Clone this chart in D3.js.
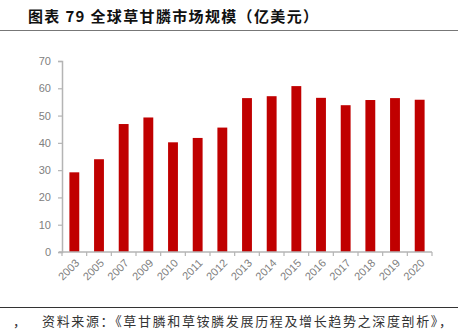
<!DOCTYPE html>
<html><head><meta charset="utf-8">
<script src="https://cdn.jsdelivr.net/npm/d3@7"></script>
<style>body{margin:0;background:#fff}svg{display:block}</style>
</head><body>
<script>
const years = ["2003","2005","2007","2009","2010","2011","2012","2013","2014","2015","2016","2017","2018","2019","2020"];
const values = [29.2,34.0,46.9,49.3,40.2,41.8,45.6,56.4,57.1,60.8,56.5,53.8,55.7,56.4,55.8];
const yTicks = [0,10,20,30,40,50,60,70];
const titleText = "图表 79 全球草甘膦市场规模（亿美元）";
const sourceText = "资料来源：《草甘膦和草铵膦发展历程及增长趋势之深度剖析》，";

const W=467,H=336;
const svg=d3.select("body").append("svg").attr("width",W).attr("height",H);
const x=d3.scaleBand().domain(years).range([62,432]).paddingInner(0.6).paddingOuter(0.3);
const y=d3.scaleLinear().domain([0,70]).range([252,61]);

svg.append("text").attr("x",28).attr("y",22).attr("font-family","Noto Sans CJK SC").attr("font-weight","bold")
  .attr("font-size",15).attr("fill","#111").attr("textLength",290).attr("lengthAdjust","spacing").text(titleText);
svg.append("line").attr("x1",0).attr("x2",458).attr("y1",30.5).attr("y2",30.5).attr("stroke","#777").attr("stroke-width",1.2);

svg.selectAll("rect.bar").data(values).enter().append("rect").attr("class","bar")
  .attr("x",(d,i)=>x(years[i])).attr("width",x.bandwidth())
  .attr("y",d=>y(d)).attr("height",d=>y(0)-y(d)).attr("fill","#c00000");

// y axis
const ya=svg.append("g").attr("transform","translate(62,0)").call(d3.axisLeft(y).tickValues(yTicks).tickSize(4).tickPadding(7));
ya.select(".domain").attr("stroke","#b4b4b4").attr("stroke-width",1.5);
ya.selectAll(".tick line").attr("stroke","#b4b4b4").attr("stroke-width",1.2);
ya.selectAll("text").attr("font-family","Liberation Sans, Arial").attr("font-size",11).attr("fill","#808080");

// x axis
const xb=d3.scaleLinear().domain([0,years.length]).range([62,432]);
const xa=svg.append("g").attr("transform","translate(0,252)");
xa.append("line").attr("x1",59).attr("x2",432).attr("stroke","#b4b4b4").attr("stroke-width",1.5);
xa.selectAll("line.t").data(d3.range(years.length+1)).enter().append("line").attr("class","t")
  .attr("x1",d=>xb(d)).attr("x2",d=>xb(d)).attr("y1",0).attr("y2",4).attr("stroke","#b4b4b4").attr("stroke-width",1.2);
xa.selectAll("text").data(years).enter().append("text")
  .attr("transform",d=>`translate(${x(d)+x.bandwidth()/2+3},${9}) rotate(-45)`)
  .attr("text-anchor","end").attr("dy","0.35em")
  .attr("font-family","Liberation Sans, Arial").attr("font-size",11).attr("fill","#808080").text(d=>d);

svg.append("line").attr("x1",0).attr("x2",458).attr("y1",307.5).attr("y2",307.5).attr("stroke","#333").attr("stroke-width",1);
svg.append("text").attr("x",13).attr("y",326).attr("font-family","Noto Sans CJK SC").attr("font-size",13).attr("fill","#333").text("，");
svg.append("text").attr("x",42).attr("y",326).attr("font-family","Noto Sans CJK SC").attr("font-size",13)
  .attr("fill","#333").attr("textLength",410).attr("lengthAdjust","spacing").text(sourceText);
</script>
</body></html>
